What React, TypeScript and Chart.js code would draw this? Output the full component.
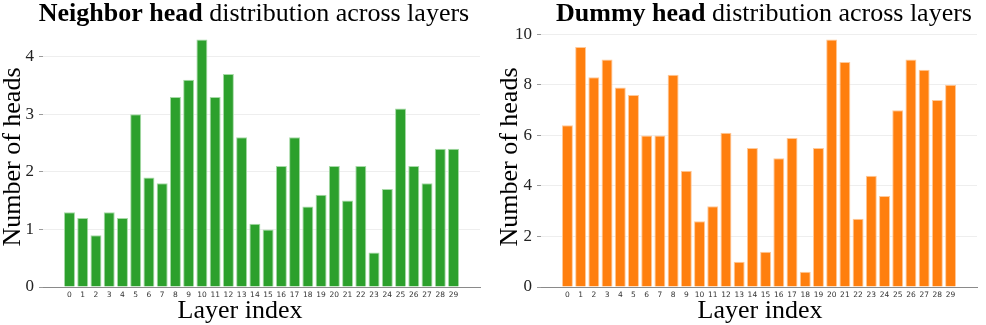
import React, { useEffect, useRef } from "react";
import { Chart, registerables } from "chart.js";
Chart.register(...registerables);

// ---- data ----
const layers = [
  "0", "1", "2", "3", "4", "5", "6", "7", "8", "9",
  "10", "11", "12", "13", "14", "15", "16", "17", "18", "19",
  "20", "21", "22", "23", "24", "25", "26", "27", "28", "29",
];
const neighborHeads = [
  1.3, 1.2, 0.9, 1.3, 1.2, 3.0, 1.9, 1.8, 3.3, 3.6,
  4.3, 3.3, 3.7, 2.6, 1.1, 1.0, 2.1, 2.6, 1.4, 1.6,
  2.1, 1.5, 2.1, 0.6, 1.7, 3.1, 2.1, 1.8, 2.4, 2.4,
];
const dummyHeads = [
  6.4, 9.5, 8.3, 9.0, 7.9, 7.6, 6.0, 6.0, 8.4, 4.6,
  2.6, 3.2, 6.1, 1.0, 5.5, 1.4, 5.1, 5.9, 0.6, 5.5,
  9.8, 8.9, 2.7, 4.4, 3.6, 7.0, 9.0, 8.6, 7.4, 8.0,
];
const neighborYTicks = [0, 1, 2, 3, 4];
const dummyYTicks = [0, 2, 4, 6, 8, 10];

const SERIF = '"Liberation Serif", "Times New Roman", serif';

const textPlugin = {
  id: "panelText",
  afterDraw(chart: any, _args: any, opts: any) {
    const ctx = chart.ctx;
    const area = chart.chartArea;
    ctx.save();
    ctx.fillStyle = "#000";
    ctx.textBaseline = "alphabetic";
    // title with bold prefix
    const bf = `bold ${opts.titleSize}px ${SERIF}`;
    const rf = `${opts.titleSize}px ${SERIF}`;
    ctx.font = bf;
    const w1 = ctx.measureText(opts.bold).width;
    ctx.font = rf;
    const w2 = ctx.measureText(opts.rest).width;
    const x0 = opts.titleX - (w1 + w2) / 2;
    ctx.textAlign = "left";
    ctx.font = bf;
    ctx.fillText(opts.bold, x0, opts.titleY);
    ctx.font = rf;
    ctx.fillText(opts.rest, x0 + w1, opts.titleY);
    // x axis title
    ctx.textAlign = "center";
    ctx.font = `${opts.axisSize}px ${SERIF}`;
    ctx.fillText(opts.xTitle, opts.xTitleX, opts.xTitleY);
    // y axis title
    ctx.translate(opts.yTitleX, (area.top + area.bottom) / 2);
    ctx.rotate(-Math.PI / 2);
    ctx.textBaseline = "middle";
    ctx.fillText(opts.yTitle, 0, 0);
    ctx.restore();
  },
};

type PanelProps = {
  values: number[];
  yTicks: number[];
  yMax: number;
  color: string;
  edge: string;
  bold: string;
  rest: string;
  yAxisWidth: number;
  rightPad: number;
  titleX: number;
  xTitleX: number;
  yTitleX: number;
};

function Panel(p: PanelProps) {
  const ref = useRef<HTMLCanvasElement | null>(null);
  useEffect(() => {
    if (!ref.current) return;
    const chart = new Chart(ref.current, {
      type: "bar",
      data: {
        datasets: [
          {
            data: p.values.map((v, i) => ({ x: Number(layers[i]), y: v })),
            backgroundColor: p.color,
            borderColor: p.edge,
            borderWidth: 1,
            barPercentage: 0.83,
            categoryPercentage: 1,
          },
        ],
      },
      options: {
        responsive: false,
        animation: false,
        devicePixelRatio: 1,
        layout: { padding: { left: 0, right: p.rightPad, top: 27, bottom: 0 } },
        plugins: {
          legend: { display: false },
          tooltip: { enabled: false },
          panelText: {
            bold: p.bold,
            rest: p.rest,
            titleSize: 26,
            titleX: p.titleX,
            titleY: 21,
            axisSize: 26,
            xTitle: "Layer index",
            xTitleX: p.xTitleX,
            xTitleY: 318,
            yTitle: "Number of heads",
            yTitleX: p.yTitleX,
          },
        } as any,
        scales: {
          x: {
            type: "linear",
            min: -2,
            max: 31,
            offset: false,
            grid: { display: false, drawTicks: false },
            border: { display: true, color: "#8a8a8a", width: 1 },
            afterBuildTicks: (scale: any) => {
              scale.ticks = layers.map((l) => ({ value: Number(l) }));
            },
            afterFit: (scale: any) => {
              scale.height = 38;
            },
            ticks: {
              autoSkip: false,
              maxRotation: 0,
              padding: 4,
              color: "#333",
              font: { family: '"DejaVu Sans", sans-serif', size: 7.5 },
              callback: (v: any) => layers[v] ?? "",
            },
          },
          y: {
            min: 0,
            max: p.yMax,
            afterBuildTicks: (scale: any) => {
              scale.ticks = p.yTicks.map((t) => ({ value: t }));
            },
            afterFit: (scale: any) => {
              scale.width = p.yAxisWidth;
            },
            grid: {
              color: (c: any) => (c.tick && c.tick.value === 0 ? "rgba(0,0,0,0)" : "#eeeeee"),
              tickColor: "#9a9a9a",
              tickLength: 4,
              lineWidth: 1,
            },
            border: { display: false },
            ticks: {
              padding: 5,
              color: "#222",
              font: { family: SERIF, size: 17 },
            },
          },
        },
      },
      plugins: [textPlugin as any],
    });
    return () => chart.destroy();
  }, []);
  return <canvas ref={ref} width={493} height={325} style={{ display: "block" }} />;
}

export default function App() {
  useEffect(() => {
    document.body.style.margin = "0";
  }, []);
  return (
    <div style={{ display: "flex", width: 986, height: 325, background: "#fff" }}>
      <Panel
        values={neighborHeads}
        yTicks={neighborYTicks}
        yMax={4.3 * 1.05}
        color="#2ca02c"
        edge="#a6daa6"
        bold="Neighbor head"
        rest=" distribution across layers"
        yAxisWidth={43}
        rightPad={13}
        titleX={254}
        xTitleX={240}
        yTitleX={13}
      />
      <Panel
        values={dummyHeads}
        yTicks={dummyYTicks}
        yMax={9.8 * 1.05}
        color="#ff7f0e"
        edge="#ffc999"
        bold="Dummy head"
        rest=" distribution across layers"
        yAxisWidth={48}
        rightPad={9}
        titleX={271}
        xTitleX={267}
        yTitleX={17}
      />
    </div>
  );
}
